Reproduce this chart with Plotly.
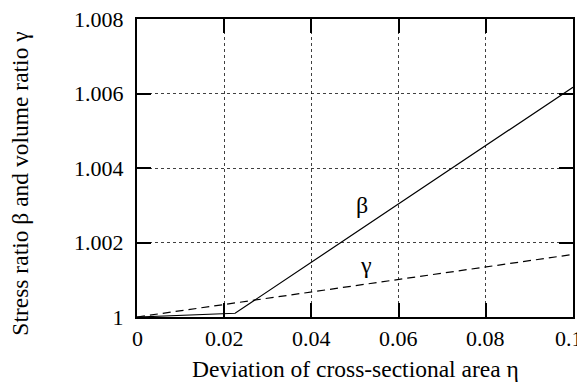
import plotly.graph_objects as go

# Data
eta_beta = [0.0, 0.0225, 0.1]
beta = [1.0, 1.0001, 1.00617]
eta_gamma = [0.0, 0.1]
gamma = [1.0, 1.00168]

x_ticks = [0, 0.02, 0.04, 0.06, 0.08, 0.1]
x_ticklabels = ["0", "0.02", "0.04", "0.06", "0.08", "0.1"]
y_ticks = [1.0, 1.002, 1.004, 1.006, 1.008]
y_ticklabels = ["1", "1.002", "1.004", "1.006", "1.008"]

labels = ["β", "γ"]
label_x = [0.0515, 0.0525]
label_y = [1.00301, 1.00140]

FONT = "Times New Roman, Liberation Serif, Tinos, serif"

fig = go.Figure()
fig.add_trace(go.Scatter(x=eta_beta, y=beta, mode="lines",
                         line=dict(color="black", width=1.2), showlegend=False))
fig.add_trace(go.Scatter(x=eta_gamma, y=gamma, mode="lines",
                         line=dict(color="black", width=1.2, dash="8px,5px"), showlegend=False))

for t, xx, yy in zip(labels, label_x, label_y):
    fig.add_annotation(x=xx, y=yy, text=t, showarrow=False,
                       font=dict(family=FONT, size=24, color="black"))

# x tick labels (last one kept inside the figure edge)
for i, (v, t) in enumerate(zip(x_ticks, x_ticklabels)):
    last = i == len(x_ticks) - 1
    fig.add_annotation(x=v, y=0, xref="x", yref="paper", text=t, showarrow=False,
                       xanchor="right" if last else "center", yanchor="top",
                       xshift=12 if last else 0, yshift=-7,
                       font=dict(family=FONT, size=22, color="black"))

fig.add_annotation(xref="paper", yref="paper", x=0.502, y=-0.176,
                   xanchor="center", yanchor="middle",
                   text="Deviation of cross-sectional area η", showarrow=False,
                   font=dict(family=FONT, size=23.5, color="black"))
fig.add_annotation(xref="paper", yref="paper", x=-0.268, y=0.448,
                   xanchor="center", yanchor="middle",
                   text="Stress ratio β and volume ratio γ", showarrow=False,
                   textangle=-90, font=dict(family=FONT, size=23.5, color="black"))

axis_common = dict(
    showline=True, linecolor="black", linewidth=2, mirror="ticks",
    ticks="inside", ticklen=14, tickwidth=2, tickcolor="black",
    showgrid=True, gridcolor="rgba(0,0,0,0.75)", gridwidth=1, griddash="dot",
    zeroline=False, automargin=False, ticklabeloverflow="allow",
    tickfont=dict(family=FONT, size=22, color="black"),
)

fig.update_xaxes(range=[0, 0.1], tickvals=x_ticks, showticklabels=False, **axis_common)
fig.update_yaxes(range=[1.0, 1.008], tickvals=y_ticks, ticktext=y_ticklabels,
                 ticklabelstandoff=7, **axis_common)

fig.update_layout(
    width=577, height=376,
    margin=dict(l=129, r=12, t=11, b=67),
    plot_bgcolor="white", paper_bgcolor="white",
    font=dict(family=FONT, color="black"),
)

fig.write_html("out.html")
